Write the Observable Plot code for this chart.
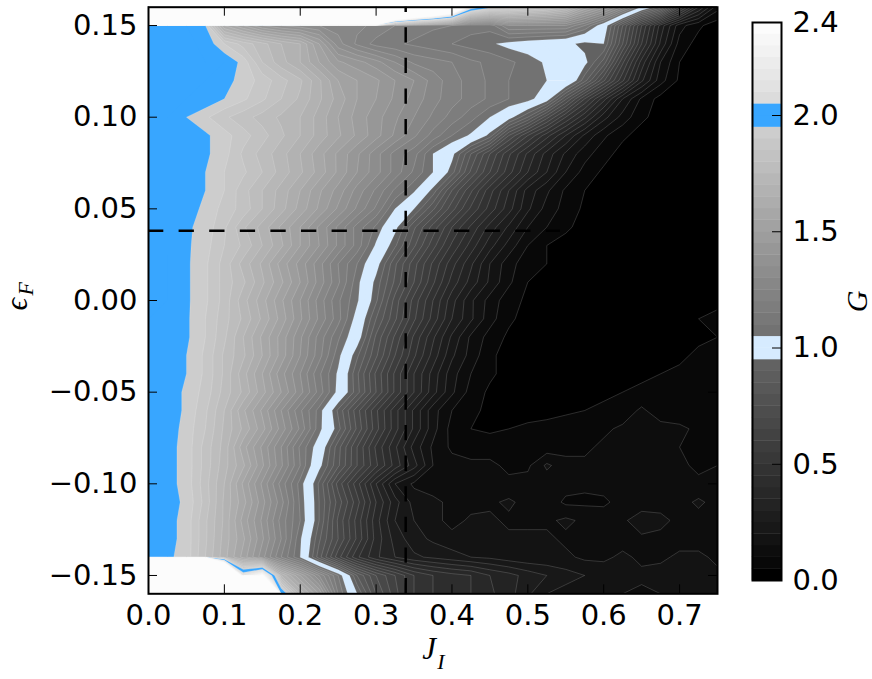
<!DOCTYPE html>
<html><head><meta charset="utf-8">
<script src="https://cdn.jsdelivr.net/npm/d3@7"></script>
<script src="https://cdn.jsdelivr.net/npm/@observablehq/plot@0.6"></script>
<style>
html,body{margin:0;padding:0;background:#fff}
#wrap{position:relative;width:872px;height:679px;overflow:hidden}
#wrap>svg{position:absolute;top:0}
</style></head><body><div id="wrap"></div>
<script>
// J_I columns: 0 to 0.75 every 0.025; epsilon_F rows: 0.16 down to -0.16 every 0.01. G values x100.
const jColumns = d3.range(31).map(i => i * 0.025);
const epsRows = d3.range(33).map(i => 0.16 - i * 0.01);
const gGrid = [
[3000,3000,3000,3000,3000,3000,3000,3000,3000,3000,3000,3000,3000,500,400,350,300,215,198,195,190,185,175,155,142,125,104,88,55,30,12],
[203,202,200,195,160,150,140,135,132,130,128,126,124,120,118,116,115,112,112,125,125,125,125,115,100,75,50,28,12,6,2],
[202,202,201,199,190,183,177,170,165,150,132,124,118,116,114,112,110,108,106,103,101,99,97,93,95,70,45,24,8,3,1],
[202,201,201,200,200,193,180,172,165,155,146,142,137,130,124,122,120,116,114,111,108,104,99,97,83,56,33,15,5,2,1],
[200,200,200,200,197,193,188,182,176,166,155,150,146,140,135,128,122,118,114,110,107,105,105,87,66,46,26,12,4,2,1],
[201,200,200,199,195,191,186,180,174,166,158,150,145,139,133,127,122,118,114,110,108,99,76,55,37,20,9,3,2,1,1],
[200,200,195,191,186,182,178,174,170,163,155,148,142,136,130,124,118,112,105,98,85,67,50,36,22,13,6,3,2,1,1],
[201,200,199,196,192,187,182,176,170,163,156,149,142,134,126,118,110,104,93,70,55,42,30,19,11,6,3,2,1,1,1],
[200,200,199,196,192,184,178,172,165,157,149,141,132,123,117,105,97,80,65,51,39,28,19,12,7,3,2,1,1,1,1],
[201,200,199,195,190,186,180,173,166,158,149,140,132,123,114,105,92,74,60,47,35,25,15,8,4,2,1,1,1,1,1],
[200,200,198,195,190,182,175,168,160,151,143,133,124,114,106,93,75,61,47,35,23,16,9,5,3,2,1,1,1,1,1],
[201,200,197,194,188,183,175,167,158,149,139,129,119,105,95,81,67,54,43,32,21,13,8,4,3,2,1,1,1,1,1],
[201,200,196,193,186,176,168,159,150,139,129,118,109,97,81,68,55,44,33,24,15,10,6,3,2,1,1,1,1,1,1],
[201,200,196,192,185,179,170,161,150,140,129,118,104,91,76,62,49,38,27,18,10,5,3,2,1,1,1,1,1,1,1],
[200,200,196,191,183,173,164,153,143,132,120,110,98,81,67,54,42,31,20,12,7,5,3,2,1,1,1,1,1,1,1],
[201,200,196,191,183,176,166,156,145,133,121,107,93,79,65,51,38,28,19,11,5,3,2,1,1,1,1,1,1,1,1],
[200,200,196,191,183,172,162,151,140,128,116,106,91,73,58,45,32,21,13,7,4,2,1,1,1,1,1,1,1,1,4],
[200,199,196,190,182,174,164,153,141,129,117,102,85,71,56,43,30,21,12,6,3,2,1,1,1,1,1,1,3,5,6],
[200,199,196,190,181,170,159,148,136,123,111,99,79,64,49,36,24,14,8,4,3,2,1,1,1,1,1,1,3,4,5],
[200,199,195,189,179,171,160,148,135,122,107,91,76,60,46,33,21,13,6,3,2,2,2,2,2,3,3,3,4,6,5],
[200,198,195,189,179,167,155,142,130,116,104,86,69,54,40,28,17,10,6,3,2,2,2,2,3,3,4,5,6,5,6],
[200,198,194,188,178,169,157,145,132,118,103,87,70,54,40,27,16,8,4,3,2,3,3,3,4,5,6,6,6,6,7],
[200,198,194,186,175,161,149,135,121,108,89,72,56,42,29,17,10,6,4,3,3,4,4,5,6,7,11,7,7,6,7],
[200,198,193,185,174,164,152,138,124,107,92,74,57,42,29,17,8,5,4,5,6,6,8,8,9,11,11,12,11,9,9],
[200,197,193,183,173,157,144,130,114,101,82,65,49,36,23,14,9,8,8,8,7,7,8,9,11,11,12,12,10,8,8],
[200,197,193,183,172,161,146,131,115,97,81,65,51,38,27,15,12,11,11,9,9,16,12,11,12,12,12,13,11,9,10],
[200,197,193,182,170,154,139,123,108,89,68,52,35,20,14,13,12,12,11,11,12,12,12,11,12,11,11,12,13,11,11],
[200,197,194,183,169,157,142,127,109,90,73,57,40,27,18,16,14,13,14,16,13,13,9,9,9,12,12,12,13,16,13],
[200,197,193,181,169,153,139,123,110,90,69,53,37,25,20,17,13,16,16,14,14,14,16,14,13,14,18,17,13,13,13],
[200,197,193,181,168,156,141,125,106,86,70,54,38,28,22,19,17,16,18,16,16,16,14,14,13,13,14,13,13,13,13],
[200,196,193,180,167,153,137,120,105,82,62,46,36,30,26,24,22,20,19,17,16,16,16,14,14,16,14,14,16,16,14],
[3000,3000,3000,3000,400,215,240,170,150,130,110,85,70,60,50,45,42,40,35,32,28,25,22,20,18,16,16,17,15,15,16],
[3000,3000,3000,3000,3000,3000,1000,205,170,150,115,95,75,62,50,45,42,40,36,32,26,20,18,17,16,15,14,15,15,16,16]
];
const xTicks = [0,0.1,0.2,0.3,0.4,0.5,0.6,0.7];
const yTicks = [-0.15,-0.10,-0.05,0,0.05,0.10,0.15];
const barTicks = [0,0.5,1.0,1.5,2.0,2.4];
const crossJ = [0.339];
const crossEps = [0.038];
const crossEnd = 0.543;

const values = gGrid.flat().map(v => v / 100);
const levels = d3.range(48).map(i => +(i * 0.05).toFixed(2));
const colors = levels.map((_, i) => {
  if (i === 19 || i === 20) return "#d6ebff";
  if (i === 39 || i === 40) return "#38a6ff";
  if (i === 0) return "#000";
  const g = Math.round((i + 0.5) / 48 * 255);
  return `rgb(${g},${g},${g})`;
});
const colorScale = {type: "threshold", domain: levels.slice(1), range: colors};
const font = "'DejaVu Sans'";
const serif = "'Liberation Serif'";
const FS = 29;
const frameW = 569, frameH = 586.6;
const grid = {
  width: jColumns.length, height: epsRows.length,
  x1: jColumns[0] - 0.0125, x2: jColumns[30] + 0.0125,
  y1: epsRows[0] + 0.005, y2: epsRows[32] - 0.005,
  clip: true
};
const lineLevels = levels.filter(l => l !== 1 && l !== 2);
const main = Plot.plot({
  width: 740, height: 679,
  marginLeft: 148, marginRight: 23, marginTop: 6.7, marginBottom: 85.7,
  style: {fontFamily: font, background: "#fff", overflow: "visible"},
  x: {domain: [0, 0.75]},
  y: {domain: [-0.16, 0.16]},
  color: colorScale,
  marks: [
    Plot.contour(values, {...grid, thresholds: levels, fill: Plot.identity}),
    Plot.contour(values, {...grid, thresholds: lineLevels, value: Plot.identity, fill: "none", stroke: "#fff", strokeOpacity: 0.27, strokeWidth: 0.6}),
    Plot.ruleX(crossJ, {x: d => d, y1: -0.16, y2: 0.16, stroke: "#000", strokeWidth: 2.5, strokeDasharray: "15.3,15.3"}),
    Plot.ruleY(crossEps, {y: d => d, x1: 0, x2: crossEnd, stroke: "#000", strokeWidth: 2.5, strokeDasharray: "15.3,15.3"}),
    Plot.tickX(xTicks, {x: d => d, insetTop: frameH - 9, stroke: "#000", strokeWidth: 1}),
    Plot.tickX(xTicks, {x: d => d, insetBottom: frameH - 9, stroke: "#000", strokeWidth: 1}),
    Plot.tickY(yTicks, {y: d => d, insetLeft: frameW - 9, stroke: "#000", strokeWidth: 1}),
    Plot.tickY(yTicks, {y: d => d, insetRight: frameW - 9, stroke: "#000", strokeWidth: 1}),
    Plot.axisX({anchor: "bottom", ticks: xTicks, tickSize: 0, tickPadding: 11, tickFormat: d3.format(".1f"), label: null, fontSize: FS, fill: "#000"}),
    Plot.axisY({anchor: "left", ticks: yTicks, tickSize: 0, tickPadding: 11, tickFormat: d3.format(".2f"), label: null, fontSize: FS, fill: "#000"}),
    Plot.frame({stroke: "#000", strokeWidth: 2}),
    Plot.text(["J"], {frameAnchor: "bottom", dx: -4, dy: 65, fontSize: 31, fontFamily: serif, fontStyle: "italic", fill: "#000"}),
    Plot.text(["I"], {frameAnchor: "bottom", dx: 8, dy: 75, fontSize: 22, fontFamily: serif, fontStyle: "italic", fill: "#000"}),
    Plot.text(["\u03F5"], {frameAnchor: "left", dx: -131, dy: 10, rotate: -90, fontSize: 31, fontFamily: serif, fontStyle: "italic", fill: "#000"}),
    Plot.text(["F"], {frameAnchor: "left", dx: -123, dy: -5, rotate: -90, fontSize: 22, fontFamily: serif, fontStyle: "italic", fill: "#000"})
  ]
});
main.style.left = "0px";
const bar = Plot.plot({
  width: 132, height: 679,
  marginLeft: 12, marginRight: 91, marginTop: 22, marginBottom: 99,
  style: {fontFamily: font, background: "#fff", overflow: "visible"},
  x: {domain: [0, 1], axis: null},
  y: {domain: [0, 2.4]},
  color: colorScale,
  marks: [
    Plot.rect(levels, {x1: 0, x2: 1, y1: d => d, y2: d => d + 0.05, fill: d => d, inset: -0.2}),
    Plot.tickY(barTicks, {y: d => d, insetLeft: 20, stroke: "#000", strokeWidth: 1}),
    Plot.axisY({anchor: "right", ticks: barTicks, tickSize: 0, tickPadding: 11, tickFormat: d3.format(".1f"), label: null, fontSize: FS, fill: "#000"}),
    Plot.frame({stroke: "#000", strokeWidth: 2}),
    Plot.text(["G"], {frameAnchor: "right", dx: 76, dy: -11, rotate: -90, fontSize: 30, fontFamily: serif, fontStyle: "italic", fill: "#000"})
  ]
});
bar.style.left = "740px";
const wrap = document.getElementById("wrap");
wrap.append(main, bar);
</script></body></html>
